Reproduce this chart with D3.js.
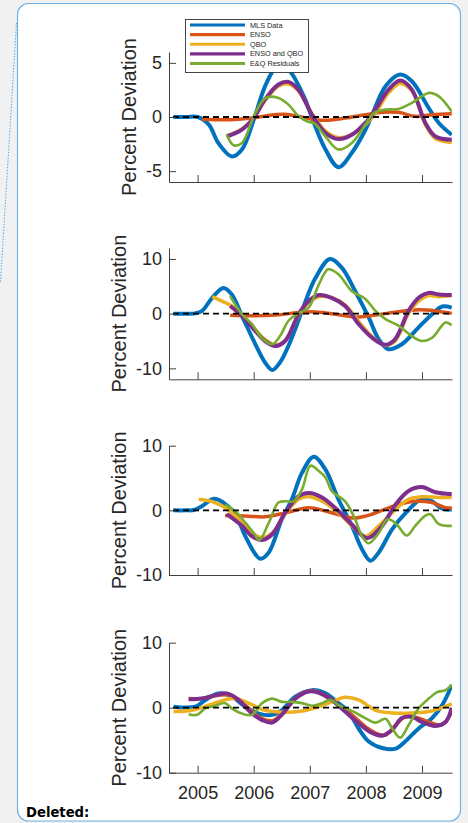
<!DOCTYPE html>
<html><head><meta charset="utf-8">
<script src="https://cdn.jsdelivr.net/npm/d3@7"></script>
<style>body{margin:0;background:#f1f1f1;} svg{display:block}</style>
</head><body><svg id="c" width="468" height="823"></svg>
<script>
// ---------- data ----------
const seriesNames = ["MLS Data","ENSO","QBO","ENSO and QBO","E&Q Residuals"];
const seriesColors = ["#0072BD","#D95319","#EDB120","#7E2F8E","#77AC30"];
const xTickYears = [2005,2006,2007,2008,2009];
const xDomain = [2004.49, 2009.535];
const yTicksA = [-5,0,5];
const yTicksB = [-10,0,10];

// Panel 1
const mls1 = [[2004.57,0],[2004.8,0],[2005.0,0],[2005.2,-0.7],[2005.37,-2.4],[2005.61,-3.64],[2005.79,-3.0],[2006.0,-0.25],[2006.2,2.8],[2006.38,4.5],[2006.5,4.75],[2006.65,4.2],[2006.92,1.6],[2007.04,-0.1],[2007.28,-3.0],[2007.51,-4.63],[2007.75,-3.3],[2007.99,-1.2],[2008.1,0.06],[2008.35,2.84],[2008.61,3.92],[2008.82,3.3],[2009.12,0.83],[2009.3,-0.55],[2009.53,-1.64]];
const enso1 = [[2005.08,-0.2],[2005.6,-0.25],[2005.97,-0.1],[2006.2,0.1],[2006.56,0.25],[2006.8,0.05],[2007.1,-0.25],[2007.33,-0.3],[2007.63,-0.1],[2007.99,0.2],[2008.29,0.43],[2008.58,0.43],[2008.88,0.06],[2009.18,0.2],[2009.53,0.3]];
const qbo1 = [[2005.52,-1.75],[2005.79,-1.1],[2006.0,-0.05],[2006.2,1.5],[2006.44,2.85],[2006.62,3.05],[2006.8,2.4],[2007.04,0.3],[2007.28,-1.3],[2007.51,-1.9],[2007.75,-1.6],[2007.99,-0.7],[2008.17,0.35],[2008.4,2.2],[2008.61,3.1],[2008.82,2.4],[2009.06,-0.7],[2009.24,-2.0],[2009.53,-2.35]];
const enq1 = [[2005.52,-1.8],[2005.79,-1.17],[2006.0,-0.1],[2006.2,1.6],[2006.44,3.0],[2006.62,3.24],[2006.8,2.5],[2007.04,0.2],[2007.28,-1.48],[2007.51,-2.04],[2007.75,-1.64],[2007.99,-0.55],[2008.17,0.68],[2008.4,2.5],[2008.61,3.36],[2008.82,2.53],[2009.06,-0.55],[2009.24,-1.8],[2009.53,-2.1]];
const res1 = [[2005.52,-1.64],[2005.64,-2.6],[2005.79,-2.4],[2006.0,0.06],[2006.15,1.45],[2006.24,1.82],[2006.44,1.76],[2006.62,1.14],[2006.8,0.06],[2006.98,-0.46],[2007.07,-0.55],[2007.28,-1.8],[2007.51,-3.0],[2007.75,-2.4],[2007.99,-0.7],[2008.14,0.37],[2008.35,0.68],[2008.58,0.74],[2008.82,1.3],[2009.12,2.22],[2009.3,1.9],[2009.53,0.5]];

// Panel 2
const mls2 = [[2004.57,0],[2004.8,0],[2004.96,0.05],[2005.08,0.5],[2005.26,2.9],[2005.46,4.7],[2005.61,3.5],[2005.79,-0.4],[2006.03,-5.6],[2006.2,-8.9],[2006.33,-10.3],[2006.47,-8.9],[2006.68,-4.4],[2006.86,0.5],[2007.1,6.5],[2007.36,10.0],[2007.57,8.4],[2007.81,4.1],[2008.05,-0.7],[2008.23,-4.7],[2008.4,-6.5],[2008.64,-5.6],[2008.94,-2.5],[2009.18,-0.1],[2009.36,1.3],[2009.53,1.1]];
const enso2 = [[2005.58,-0.3],[2005.97,-0.4],[2006.39,-0.25],[2006.8,0.2],[2007.04,0.35],[2007.39,0],[2007.81,-0.6],[2008.17,-0.25],[2008.58,0.35],[2008.94,0.7],[2009.24,0.5],[2009.53,0.05]];
const qbo2 = [[2005.26,3.1],[2005.45,2.2],[2005.61,1.4],[2005.79,-0.2],[2006.03,-2.9],[2006.2,-4.7],[2006.39,-5.7],[2006.56,-4.9],[2006.8,-0.3],[2006.98,2.0],[2007.16,3.1],[2007.39,2.9],[2007.63,1.6],[2007.87,-1.4],[2008.11,-4.2],[2008.35,-5.8],[2008.52,-5.0],[2008.76,0.0],[2008.94,2.3],[2009.12,3.3],[2009.3,3.1],[2009.53,3.3]];
const enq2 = [[2005.58,1.4],[2005.79,-0.4],[2006.03,-3.2],[2006.2,-5.0],[2006.39,-5.9],[2006.56,-5.0],[2006.8,-0.1],[2006.98,2.3],[2007.16,3.4],[2007.39,2.9],[2007.63,1.4],[2007.87,-1.9],[2008.11,-4.4],[2008.35,-5.7],[2008.52,-4.7],[2008.76,0.5],[2008.94,2.9],[2009.12,3.8],[2009.3,3.5],[2009.53,3.4]];
const res2 = [[2005.58,3.2],[2005.79,-0.1],[2005.97,-1.9],[2006.14,-4.4],[2006.33,-5.6],[2006.47,-4.1],[2006.62,-1.3],[2006.8,0.06],[2006.98,1.1],[2007.16,5.3],[2007.33,8.1],[2007.51,7.2],[2007.75,4.1],[2007.99,2.7],[2008.17,0.5],[2008.35,-1.0],[2008.58,-2.2],[2008.82,-4.1],[2009.0,-5.0],[2009.18,-4.4],[2009.42,-1.6],[2009.53,-2.1]];

// Panel 3
const mls3 = [[2004.57,0],[2004.8,0],[2004.93,0.05],[2005.08,0.67],[2005.29,1.8],[2005.46,1.2],[2005.67,-0.6],[2005.85,-4.0],[2006.03,-6.8],[2006.12,-7.5],[2006.27,-6.5],[2006.5,-1.4],[2006.68,1.7],[2006.86,5.8],[2007.07,8.3],[2007.28,6.3],[2007.51,1.7],[2007.75,-2.4],[2007.93,-6.0],[2008.08,-7.8],[2008.23,-6.5],[2008.47,-2.9],[2008.71,-0.4],[2009.0,1.8],[2009.18,1.4],[2009.36,0.26],[2009.53,0.15]];
const enso3 = [[2005.49,-0.8],[2005.91,-0.9],[2006.2,-1.0],[2006.56,-0.4],[2006.98,0.4],[2007.28,-0.1],[2007.57,-0.8],[2007.78,-1.2],[2007.99,-0.9],[2008.29,0],[2008.58,0.9],[2008.88,1.4],[2009.18,1.2],[2009.42,0.4],[2009.53,0.4]];
const qbo3 = [[2005.02,1.7],[2005.31,1.2],[2005.55,0.05],[2005.79,-1.9],[2005.97,-3.5],[2006.15,-4.2],[2006.33,-3.5],[2006.56,-0.6],[2006.8,1.7],[2006.98,2.1],[2007.22,1.4],[2007.51,-0.4],[2007.75,-2.4],[2007.99,-4.0],[2008.23,-2.4],[2008.53,0.15],[2008.76,1.7],[2009.0,2.1],[2009.3,2.0],[2009.53,2.0]];
const enq3 = [[2005.52,-0.6],[2005.79,-2.4],[2005.97,-4.0],[2006.15,-4.6],[2006.33,-3.7],[2006.56,-0.4],[2006.8,2.2],[2006.98,2.7],[2007.22,2.0],[2007.51,-0.1],[2007.75,-2.2],[2008.02,-4.3],[2008.29,-2.4],[2008.53,0.9],[2008.76,3.0],[2009.0,3.6],[2009.24,2.8],[2009.53,2.5]];
const res3 = [[2005.49,0.9],[2005.67,-0.1],[2005.85,-1.9],[2006.0,-3.5],[2006.1,-4.6],[2006.27,-1.9],[2006.44,1.2],[2006.56,1.4],[2006.71,1.4],[2006.86,3.2],[2007.01,6.9],[2007.16,6.1],[2007.28,5.1],[2007.39,3.0],[2007.63,1.4],[2007.81,-1.4],[2007.93,-4.0],[2008.05,-5.1],[2008.23,-3.5],[2008.38,-1.4],[2008.47,-1.6],[2008.58,-2.5],[2008.73,-3.9],[2008.88,-2.4],[2009.06,-0.8],[2009.15,-0.6],[2009.27,-1.9],[2009.36,-2.3],[2009.53,-2.4]];

// Panel 4
const mls4 = [[2004.57,0.15],[2004.96,0.15],[2005.14,1.2],[2005.37,2.2],[2005.61,1.7],[2005.85,0.15],[2006.09,-0.9],[2006.33,-1.1],[2006.5,-0.4],[2006.74,1.7],[2007.04,2.7],[2007.28,2.2],[2007.51,0.7],[2007.69,-0.6],[2007.87,-3.2],[2008.05,-5.2],[2008.29,-6.2],[2008.53,-6.3],[2008.7,-5.2],[2008.94,-3.2],[2009.18,-1.6],[2009.36,0.4],[2009.53,3.5]];
const enso4 = [[2004.84,1.4],[2005.08,1.4],[2005.37,1.9],[2005.61,1.9],[2005.85,0.4],[2006.09,-1.4],[2006.33,-2.0],[2006.56,-0.4],[2006.8,1.9],[2007.04,2.6],[2007.28,1.9],[2007.51,0.4],[2007.75,-1.1],[2007.99,-2.9],[2008.23,-4.1],[2008.35,-4.2],[2008.53,-2.7],[2008.7,-1.4],[2008.94,-1.6],[2009.18,-2.4],[2009.36,-2.6],[2009.53,-0.7]];
const qbo4 = [[2004.57,-0.6],[2004.9,-0.4],[2005.2,0.4],[2005.49,1.2],[2005.67,1.4],[2005.91,0.7],[2006.2,-0.4],[2006.56,-0.7],[2006.8,-0.6],[2007.1,0],[2007.39,0.9],[2007.63,1.6],[2007.87,1.2],[2008.17,-0.4],[2008.47,-0.8],[2008.82,-0.8],[2009.18,-0.5],[2009.53,0.6]];
const enq4 = [[2004.84,1.3],[2005.08,1.4],[2005.31,1.9],[2005.52,2.2],[2005.73,1.2],[2005.97,-0.9],[2006.15,-1.9],[2006.33,-2.3],[2006.5,-1.1],[2006.74,1.4],[2006.98,2.5],[2007.16,2.3],[2007.39,1.2],[2007.63,-0.6],[2007.87,-2.4],[2008.11,-3.9],[2008.29,-4.3],[2008.47,-3.4],[2008.64,-1.6],[2008.82,-1.4],[2009.0,-2.2],[2009.24,-2.8],[2009.42,-2.2],[2009.53,0.0]];
const res4 = [[2004.84,-1.0],[2004.99,-1.1],[2005.14,-0.1],[2005.31,0.3],[2005.49,0.7],[2005.61,-0.1],[2005.79,-0.9],[2005.97,-1.1],[2006.15,0.7],[2006.33,1.4],[2006.5,0.9],[2006.68,0.9],[2006.86,0.7],[2007.04,0.3],[2007.22,0.7],[2007.36,1.2],[2007.51,0.4],[2007.75,-0.5],[2007.99,-1.6],[2008.17,-2.3],[2008.35,-1.7],[2008.47,-3.2],[2008.61,-4.6],[2008.76,-2.7],[2008.94,-0.1],[2009.12,1.4],[2009.27,2.4],[2009.42,2.7],[2009.53,3.5]];

// ---------- layout ----------
const FONT = "'Liberation Sans', Arial, Helvetica, sans-serif";
const TXT = "#262626";
const AX = "#404040";
const left = 169, right = 452;
const lineWidths = [4, 3.5, 3.5, 4, 2.6];
const panels = [
  {series:[mls1,enso1,qbo1,enq1,res1], yDomain:[-6,6], yTicks:yTicksA, top:52, bottom:182, labelX:135.5, xLabels:false, legend:true},
  {series:[mls2,enso2,qbo2,enq2,res2], yDomain:[-12,12], yTicks:yTicksB, top:248, bottom:379.3, labelX:125.5, xLabels:false},
  {series:[mls3,enso3,qbo3,enq3,res3], yDomain:[-10,10], yTicks:yTicksB, top:445.7, bottom:575, labelX:125.5, xLabels:false},
  {series:[mls4,enso4,qbo4,enq4,res4], yDomain:[-10,10], yTicks:yTicksB, top:642.7, bottom:772.7, labelX:125.5, xLabels:true}
];

const svg = d3.select("#c");

// frame
svg.append("rect").attr("x",17.5).attr("y",3.5).attr("width",443).attr("height",817.5)
  .attr("rx",11).attr("fill","#ffffff").attr("stroke","#6fb2e4").attr("stroke-width",1.2);
svg.append("line").attr("x1",16.5).attr("y1",23).attr("x2",0.5).attr("y2",282)
  .attr("stroke","#5aa6de").attr("stroke-width",1).attr("stroke-dasharray","1.5,1.5");
svg.append("text").attr("x",26).attr("y",817).attr("font-family","'DejaVu Sans', Verdana, sans-serif")
  .attr("font-weight","bold").attr("font-size",13.2).attr("fill","#000").text("Deleted:");

const x = d3.scaleLinear().domain(xDomain).range([left, right]);

panels.forEach((p, pi) => {
  const y = d3.scaleLinear().domain(p.yDomain).range([p.bottom, p.top]);
  const g = svg.append("g");
  const clipId = "clip" + pi;
  svg.append("clipPath").attr("id", clipId).append("rect")
    .attr("x", left).attr("y", p.top - 10).attr("width", right - left).attr("height", p.bottom - p.top + 20);

  const line = d3.line().x(d => x(d[0])).y(d => y(d[1])).curve(d3.curveCatmullRom.alpha(0.5));
  const lg = g.append("g").attr("clip-path", `url(#${clipId})`);
  p.series.forEach((s, si) => {
    lg.append("path").datum(s).attr("d", line).attr("fill","none")
      .attr("stroke", seriesColors[si]).attr("stroke-width", lineWidths[si])
      .attr("stroke-linejoin","round").attr("stroke-linecap","butt");
  });
  // zero dashed line
  lg.append("line").attr("x1", x(xDomain[0]) + 4).attr("x2", right).attr("y1", y(0)).attr("y2", y(0))
    .attr("stroke","#000").attr("stroke-width",1.8).attr("stroke-dasharray","6,4");

  // y axis
  const ya = g.append("g").attr("transform", `translate(${left},0)`)
    .call(d3.axisLeft(y).tickValues(p.yTicks).tickSize(-7).tickSizeOuter(0).tickPadding(7).tickFormat(d => String(d)));
  ya.select(".domain").attr("stroke", AX);
  ya.selectAll(".tick line").attr("stroke", AX);
  ya.selectAll("text").attr("font-family", FONT).attr("font-size", 18).attr("fill", TXT);

  // x axis
  const xa = g.append("g").attr("transform", `translate(0,${p.bottom})`)
    .call(d3.axisBottom(x).tickValues(xTickYears).tickSize(-7).tickSizeOuter(0).tickPadding(13.8)
      .tickFormat(p.xLabels ? (d => String(d)) : (() => "")));
  xa.select(".domain").attr("stroke", AX);
  xa.selectAll(".tick line").attr("stroke", AX);
  xa.selectAll("text").attr("font-family", FONT).attr("font-size", 18).attr("fill", TXT);

  // y label
  svg.append("text").attr("transform", `translate(${p.labelX},${(p.top + p.bottom) / 2}) rotate(-90)`)
    .attr("text-anchor","middle").attr("font-family", FONT).attr("font-size", 20).attr("fill", TXT)
    .text("Percent Deviation");

  if (p.legend) {
    const L = svg.append("g");
    L.append("rect").attr("x",185.5).attr("y",19.5).attr("width",123).attr("height",53)
      .attr("fill","#fff").attr("stroke","#333").attr("stroke-width",0.9);
    const rowY = d3.scalePoint().domain(seriesNames).range([25, 63.5]);
    seriesNames.forEach((n, i) => {
      L.append("line").attr("x1",190).attr("x2",245).attr("y1",rowY(n)).attr("y2",rowY(n))
        .attr("stroke", seriesColors[i]).attr("stroke-width", 3.2);
      L.append("text").attr("x",250).attr("y",rowY(n)).attr("dy","0.35em")
        .attr("font-family", FONT).attr("font-size",7.3).attr("fill", TXT).text(n);
    });
  }
});
</script></body></html>
